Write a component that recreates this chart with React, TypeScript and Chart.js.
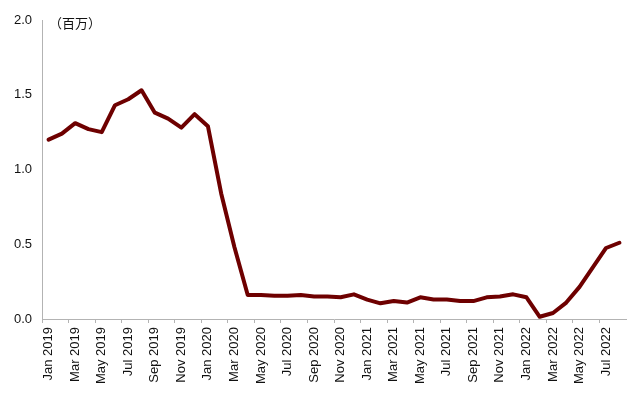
import React, { useEffect, useRef } from "react";
import { Chart, registerables } from "chart.js";

Chart.register(...registerables);

const monthNames = ["Jan", "Feb", "Mar", "Apr", "May", "Jun", "Jul", "Aug", "Sep", "Oct", "Nov", "Dec"];

const categories: string[] = [
  ...monthNames.map((m) => `${m} 2019`),
  ...monthNames.map((m) => `${m} 2020`),
  ...monthNames.map((m) => `${m} 2021`),
  ...monthNames.slice(0, 8).map((m) => `${m} 2022`),
];

const values2019 = [1.2, 1.24, 1.31, 1.27, 1.25, 1.43, 1.47, 1.53, 1.38, 1.34, 1.28, 1.37];
const values2020 = [1.29, 0.84, 0.48, 0.16, 0.16, 0.155, 0.155, 0.16, 0.15, 0.15, 0.145, 0.165];
const values2021 = [0.13, 0.105, 0.12, 0.11, 0.145, 0.13, 0.13, 0.12, 0.12, 0.145, 0.15, 0.165];
const values2022 = [0.145, 0.015, 0.04, 0.11, 0.215, 0.345, 0.475, 0.51];

const seriesValues = [...values2019, ...values2020, ...values2021, ...values2022];

const yTicks = [0, 0.5, 1.0, 1.5, 2.0];
const unitLabel = "（百万）";

const FONT = "'Liberation Sans', Arial, sans-serif";
const TEXT_COLOR = "#111111";
const AXIS_COLOR = "#b3b3b3";

export default function App() {
  const canvasRef = useRef<HTMLCanvasElement | null>(null);

  useEffect(() => {
    const canvas = canvasRef.current;
    if (!canvas) return;

    const unitPlugin = {
      id: "unitLabel",
      afterDraw(chart: any) {
        const ctx = chart.ctx;
        ctx.save();
        ctx.font = "13px 'Noto Sans CJK SC', sans-serif";
        ctx.fillStyle = TEXT_COLOR;
        ctx.textAlign = "left";
        ctx.textBaseline = "middle";
        ctx.fillText(unitLabel, chart.chartArea.left + 7, chart.chartArea.top + 3);
        ctx.restore();
      },
    };

    const chart = new Chart(canvas, {
      type: "line",
      data: {
        labels: categories,
        datasets: [
          {
            data: seriesValues,
            borderColor: "#6e0000",
            borderWidth: 4,
            pointRadius: 0,
            pointHoverRadius: 0,
            tension: 0,
            fill: false,
            borderJoinStyle: "round",
            borderCapStyle: "round",
          },
        ],
      },
      options: {
        animation: false,
        responsive: false,
        maintainAspectRatio: false,
        layout: { padding: { top: 20, right: 14, left: 0, bottom: 0 } },
        plugins: {
          legend: { display: false },
          tooltip: { enabled: false },
          title: { display: false },
        },
        scales: {
          x: {
            type: "category",
            offset: true,
            grid: {
              display: true,
              drawOnChartArea: false,
              drawTicks: true,
              tickLength: 4,
              offset: true,
              color: (ctx: any) => (ctx.index % 2 === 0 ? AXIS_COLOR : "rgba(0,0,0,0)"),
            },
            border: { display: true, color: AXIS_COLOR, width: 1 },
            ticks: {
              autoSkip: false,
              minRotation: 90,
              maxRotation: 90,
              padding: 4,
              color: TEXT_COLOR,
              font: { family: FONT, size: 13 },
              callback: (_v: any, i: number) => (i % 2 === 0 ? categories[i] : ""),
            },
            afterFit: (scale: any) => {
              scale.height = 85;
            },
          },
          y: {
            min: 0,
            max: 2,
            grid: { display: false, drawTicks: false },
            border: { display: true, color: AXIS_COLOR, width: 1 },
            afterBuildTicks: (scale: any) => {
              scale.ticks = yTicks.map((v) => ({ value: v }));
            },
            ticks: {
              padding: 10,
              color: TEXT_COLOR,
              font: { family: FONT, size: 13 },
              callback: (v: any) => Number(v).toFixed(1),
            },
            afterFit: (scale: any) => {
              scale.width = 42;
            },
          },
        },
      },
      plugins: [unitPlugin],
    });

    return () => {
      chart.destroy();
    };
  }, []);

  return (
    <div style={{ position: "absolute", left: 0, top: 0, width: 640, height: 404, background: "#ffffff" }}>
      <canvas ref={canvasRef} width={640} height={404} style={{ width: 640, height: 404, display: "block" }} />
    </div>
  );
}
